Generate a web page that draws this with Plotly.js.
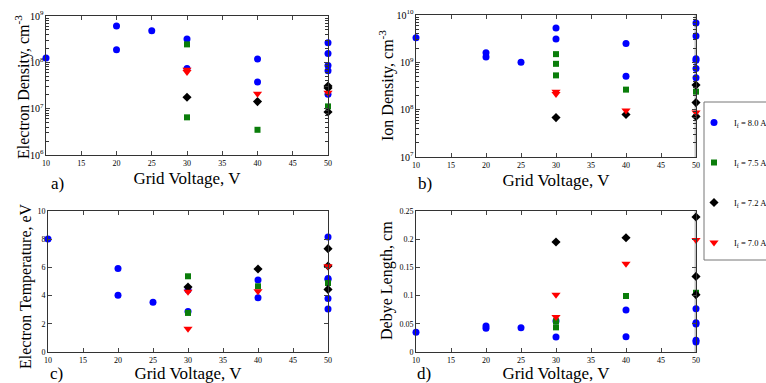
<!DOCTYPE html>
<html><head><meta charset="utf-8">
<script src="https://cdn.plot.ly/plotly-3.0.1.min.js"></script>
<style>html,body{margin:0;padding:0;background:#fff;overflow:hidden}#plot{width:800px;height:383px}</style>
</head><body><div id="plot"></div>
<script>
// Series labels
const seriesNames = ['I<sub>f</sub> = 8.0 A','I<sub>f</sub> = 7.5 A','I<sub>f</sub> = 7.2 A','I<sub>f</sub> = 7.0 A'];
const xTicks = [10,15,20,25,30,35,40,45,50];
const panelLabels = ['a)','b)','c)','d)'];
const yTitles = ['Electron Density, cm<sup>-3</sup>','Ion Density, cm<sup>-3</sup>','Electron Temperature, eV','Debye Length, cm'];
const xTitle = 'Grid Voltage, V';

// a) Electron density (cm^-3)
const neX80 = [10,20,20,25,30,30,40,40,50,50,50,50,50];
const neY80 = [1.24e8,6.08e8,1.87e8,4.82e8,3.19e8,7.4e7,1.18e8,3.77e7,2.65e8,1.56e8,8.5e7,6.6e7,2.04e7];
const neX75 = [30,30,40,50];
const neY75 = [2.44e8,6.5e6,3.5e6,1.12e7];
const neX72 = [30,40,50,50,50];
const neY72 = [1.76e7,1.42e7,3.08e7,2.8e7,8.5e6];
const neX70 = [30,30,40,50];
const neY70 = [6.9e7,6.2e7,2.1e7,2.2e7];

// b) Ion density (cm^-3)
const niX80 = [10,20,20,25,30,30,40,40,50,50,50,50,50,50];
const niY80 = [3.3e9,1.6e9,1.29e9,1.0e9,5.3e9,3.1e9,2.5e9,5.1e8,6.8e9,3.6e9,1.19e9,1.1e9,7.4e8,4.75e8];
const niX75 = [30,30,30,40,50];
const niY75 = [1.49e9,9.3e8,5.3e8,2.65e8,2.4e8];
const niX72 = [30,40,50,50,50];
const niY72 = [6.8e7,7.9e7,3.3e8,1.41e8,7.2e7];
const niX70 = [30,30,40,50];
const niY70 = [2.4e8,2.15e8,9.6e7,8.7e7];

// c) Electron temperature (eV)
const teX80 = [10,20,20,25,30,30,40,40,50,50,50,50,50];
const teY80 = [8.02,5.93,4.02,3.52,4.4,2.88,5.11,3.85,8.16,5.22,5.15,3.8,3.05];
const teX75 = [30,30,40,50];
const teY75 = [5.37,2.77,4.66,4.89];
const teX72 = [30,40,50,50,50];
const teY72 = [4.61,5.89,7.33,6.1,4.44];
const teX70 = [30,30,40,50];
const teY70 = [4.27,1.65,4.3,6.08];

// d) Debye length (cm)
const dlX80 = [10,20,20,25,30,30,40,40,50,50,50,50,50];
const dlY80 = [0.035,0.046,0.042,0.043,0.055,0.0266,0.0745,0.0272,0.0768,0.052,0.0497,0.0207,0.0177];
const dlX75 = [30,30,40,50];
const dlY75 = [0.0544,0.0437,0.0993,0.105];
const dlX72 = [30,40,50,50,50];
const dlY72 = [0.195,0.2027,0.2394,0.134,0.1017];
const dlX70 = [30,30,40,50];
const dlY70 = [0.1017,0.062,0.1566,0.1986];

const styles = [
  {symbol:'circle', color:'#0000ff', size:7},
  {symbol:'square', color:'#0a7d0a', size:6},
  {symbol:'diamond', color:'#000000', size:7},
  {symbol:'triangle-down', color:'#ff0000', size:8}
];
const panels = [
  {xa:'x', ya:'y', data:[[neX80,neY80],[neX75,neY75],[neX72,neY72],[neX70,neY70]]},
  {xa:'x2', ya:'y2', data:[[niX80,niY80],[niX75,niY75],[niX72,niY72],[niX70,niY70]]},
  {xa:'x3', ya:'y3', data:[[teX80,teY80],[teX75,teY75],[teX72,teY72],[teX70,teY70]]},
  {xa:'x4', ya:'y4', data:[[dlX80,dlY80],[dlX75,dlY75],[dlX72,dlY72],[dlX70,dlY70]]}
];
const traces = [];
panels.forEach((p,pi)=>{
  p.data.forEach((d,si)=>{
    traces.push({
      type:'scatter', mode:'markers', x:d[0], y:d[1], xaxis:p.xa, yaxis:p.ya,
      name:seriesNames[si], legendgroup:'g'+si, showlegend:pi===0, cliponaxis:false,
      marker:{symbol:styles[si].symbol, color:styles[si].color, size:styles[si].size, line:{width:0}}
    });
  });
});

const W=800, H=383;
const fx = v=>v/W, fy = v=>1-v/H;
const serif = '"Liberation Serif", "Times New Roman", serif';
const tickFont = {family:serif, size:8, color:'#000'};
const titleFont = {family:serif, size:17, color:'#000'};
const yTitleFont = {family:serif, size:16, color:'#000'};
function xax(dom, anchor){
  return {domain:dom, anchor:anchor, range:[10,50], tickvals:xTicks, ticks:'inside', ticklen:4,
    mirror:'ticks', showline:true, linecolor:'#333', linewidth:1, showgrid:false, zeroline:false,
    tickfont:tickFont, title:{text:xTitle, font:titleFont, standoff:5}};
}
function yax(dom, anchor, extra){
  return Object.assign({domain:dom, anchor:anchor, ticks:'inside', ticklen:4,
    mirror:'ticks', showline:true, linecolor:'#333', linewidth:1, showgrid:false, zeroline:false,
    tickfont:tickFont}, extra);
}
const logMinor = {ticks:'inside', ticklen:3, dtick:'D1', showgrid:false, tickcolor:'#333'};
const yTitlePos = [[22,87],[386,86],[26,286],[387,281]];
const labelPos = [[58,184],[425,183],[56,373],[424,373]];
const annotations = [];
yTitles.forEach((t,i)=>annotations.push({text:t, xref:'paper', yref:'paper', x:fx(yTitlePos[i][0]), y:fy(yTitlePos[i][1]),
  textangle:-90, showarrow:false, font:yTitleFont, xanchor:'center', yanchor:'middle'}));
panelLabels.forEach((t,i)=>annotations.push({text:t, xref:'paper', yref:'paper', x:fx(labelPos[i][0]), y:fy(labelPos[i][1]),
  showarrow:false, font:titleFont, xanchor:'center', yanchor:'middle'}));

const layout = {
  width:W, height:H, margin:{l:0,r:0,t:0,b:0}, paper_bgcolor:'#fff', plot_bgcolor:'#fff',
  font:{family:serif},
  xaxis: xax([fx(46),fx(328)],'y'),
  yaxis: yax([fy(155),fy(16)],'x',{type:'log', range:[6,9], dtick:1, exponentformat:'power', minor:logMinor}),
  xaxis2: xax([fx(416),fx(696)],'y2'),
  yaxis2: yax([fy(157),fy(15)],'x2',{type:'log', range:[7,10], dtick:1, exponentformat:'power', minor:logMinor}),
  xaxis3: xax([fx(48),fx(328)],'y3'),
  yaxis3: yax([fy(352),fy(211)],'x3',{range:[0,10], dtick:2}),
  xaxis4: xax([fx(416),fx(696)],'y4'),
  yaxis4: yax([fy(352),fy(211)],'x4',{range:[0,0.25], dtick:0.05}),
  legend:{x:fx(694), y:fy(108), xanchor:'left', yanchor:'top', bgcolor:'rgba(0,0,0,0)',
    borderwidth:0, font:{family:serif, size:8.5, color:'#000'},
    tracegroupgap:21, itemwidth:30},
  shapes:[
    {type:'rect', xref:'paper', yref:'paper', x0:fx(704), x1:fx(790), y0:fy(260), y1:fy(102), line:{color:'#777', width:1}, fillcolor:'#fff', layer:'below'},
    {type:'line', xref:'x2', yref:'y2 domain', x0:50, x1:50, y0:0, y1:1, line:{color:'#c4c4c4', width:3}, layer:'below'},
    {type:'line', xref:'x4', yref:'y4 domain', x0:50, x1:50, y0:0, y1:1, line:{color:'#c4c4c4', width:3}, layer:'below'}
  ],
  annotations:annotations
};
Plotly.newPlot('plot', traces, layout, {displayModeBar:false, staticPlot:true});
</script></body></html>
